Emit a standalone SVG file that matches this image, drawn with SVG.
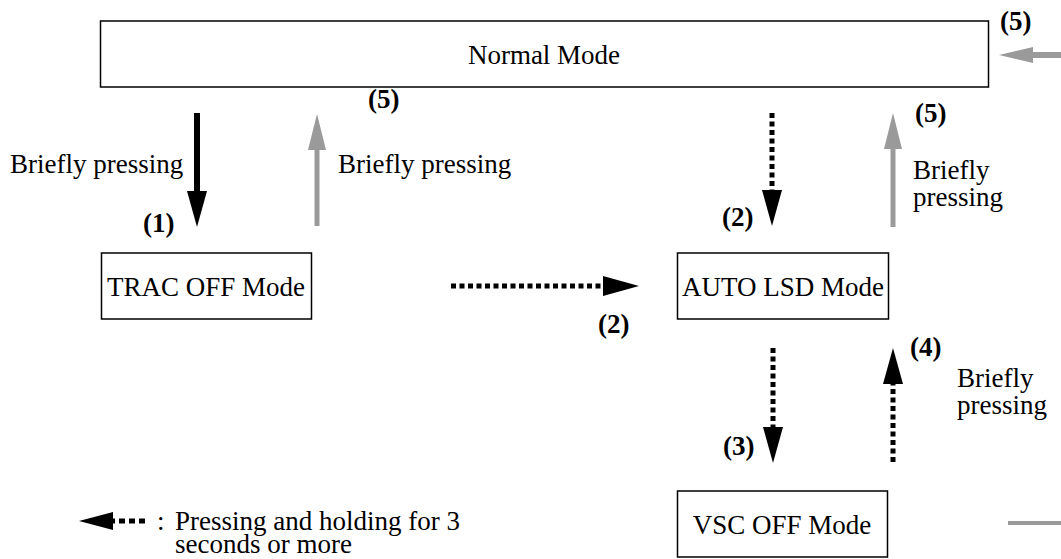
<svg xmlns="http://www.w3.org/2000/svg" width="1061" height="559" viewBox="0 0 1061 559">
<style>
.box{fill:#fff;stroke:#000;stroke-width:1.5}
.t text{font-size:27px;fill:#000}
.c{text-anchor:middle}
.b{font-weight:bold}
.solid{stroke:#000;stroke-width:6;fill:none}
.dot{stroke:#000;stroke-width:5;fill:none;stroke-dasharray:5 3.5}
.gray{stroke:#9a9a9a;stroke-width:5;fill:none}
</style>
<defs>
<marker id="hb" markerUnits="userSpaceOnUse" markerWidth="36" markerHeight="20" refX="0" refY="10" orient="auto" overflow="visible">
<path d="M0,0 L36,10 L0,20 z" fill="#000"/>
</marker>
<marker id="hg" markerUnits="userSpaceOnUse" markerWidth="36" markerHeight="20" refX="0" refY="9" orient="auto" overflow="visible">
<path d="M0,0 L36,9 L0,18 z" fill="#9a9a9a"/>
</marker>
<marker id="hgs" markerUnits="userSpaceOnUse" markerWidth="34" markerHeight="16" refX="0" refY="8" orient="auto" overflow="visible">
<path d="M0,0 L34,8 L0,16 z" fill="#9a9a9a"/>
</marker>
</defs>
<g class="t" font-family="Liberation Serif, Tinos, DejaVu Serif, serif">
<g id="normal">
<rect class="box" x="100.5" y="21" width="888" height="66"/>
<text class="c" x="544" y="64">Normal Mode</text>
</g>
<g id="trac">
<rect class="box" x="101.5" y="253" width="210" height="66"/>
<text class="c" x="206" y="296">TRAC OFF Mode</text>
</g>
<g id="auto">
<rect class="box" x="677.5" y="253" width="211" height="66"/>
<text class="c" x="783" y="296">AUTO LSD Mode</text>
</g>
<g id="vsc">
<rect class="box" x="677.5" y="491" width="210" height="66"/>
<text class="c" x="782" y="534">VSC OFF Mode</text>
</g>
<g id="connectors">
<line class="solid" x1="197" y1="113" x2="197" y2="191" marker-end="url(#hb)"/>
<line class="gray" x1="317" y1="226" x2="317" y2="150" marker-end="url(#hg)"/>
<line class="dot" x1="451" y1="286" x2="603" y2="286" marker-end="url(#hb)"/>
<line class="dot" x1="772" y1="113" x2="772" y2="190" marker-end="url(#hb)"/>
<line class="gray" x1="893" y1="227" x2="893" y2="149" marker-end="url(#hg)"/>
<line class="dot" x1="773" y1="348" x2="773" y2="427" marker-end="url(#hb)"/>
<line class="dot" x1="893" y1="462" x2="893" y2="384" marker-end="url(#hb)"/>
<line class="gray" style="stroke-width:6" x1="1061" y1="55" x2="1033" y2="55" marker-end="url(#hgs)"/>
<line class="gray" style="stroke-width:4" x1="1008" y1="523" x2="1061" y2="523"/>
</g>
<g id="labels">
<text x="10" y="173">Briefly pressing</text>
<text class="b" x="143" y="232">(1)</text>
<text class="b" x="368" y="108">(5)</text>
<text x="338" y="173">Briefly pressing</text>
<text class="b" x="915" y="122">(5)</text>
<text x="913" y="179">Briefly</text>
<text x="913" y="206">pressing</text>
<text class="b" x="722" y="226">(2)</text>
<text class="b" x="598" y="333">(2)</text>
<text class="b" x="910" y="356">(4)</text>
<text x="957" y="387">Briefly</text>
<text x="957" y="414">pressing</text>
<text class="b" x="723" y="455">(3)</text>
<text class="b" x="1000" y="30">(5)</text>
</g>
<g id="legend">
<line class="dot" style="stroke-dasharray:6 4" x1="145" y1="521" x2="113" y2="521"/>
<path d="M113,512 L79,521 L113,530 z" fill="#000"/>
<text x="157" y="530">:</text>
<text x="175" y="530">Pressing and holding for 3</text>
<text x="175" y="553">seconds or more</text>
</g>
</g>
</svg>
